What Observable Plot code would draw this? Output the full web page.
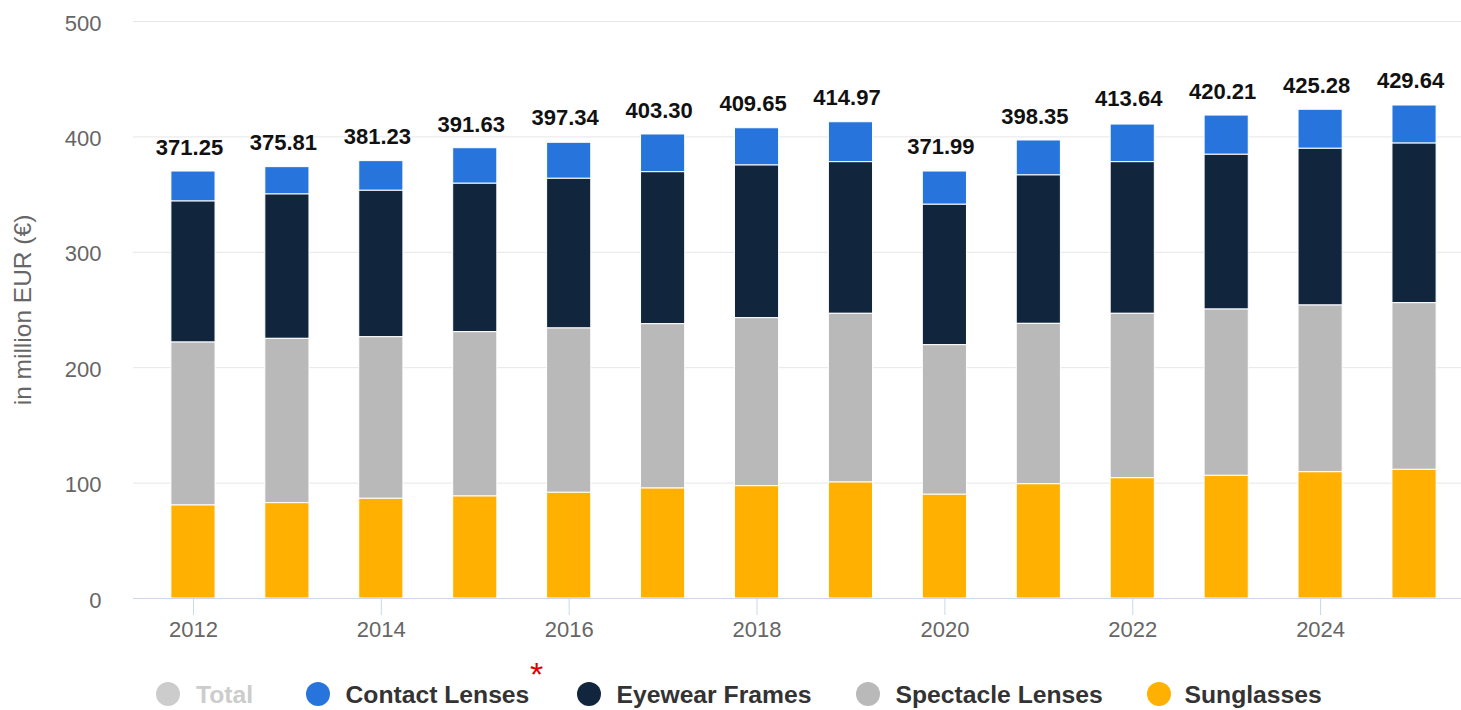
<!DOCTYPE html>
<html><head><meta charset="utf-8">
<script src="https://cdn.jsdelivr.net/npm/d3@7"></script>
<script src="https://cdn.jsdelivr.net/npm/@observablehq/plot@0.6"></script>
<style>
body{margin:0;background:#fff;font-family:"Liberation Sans",Arial,sans-serif;}
#wrap{position:relative;width:1461px;height:710px;overflow:hidden;background:#fff;}
.dot{position:absolute;width:24px;height:24px;border-radius:50%;}
.lt{position:absolute;font-size:24.7px;line-height:25px;font-weight:bold;white-space:nowrap;}
.ast{position:absolute;color:#e00000;font-size:34px;line-height:34px;white-space:nowrap;}
</style></head><body><div id="wrap"><div id="chart"></div><div id="legend"></div></div>
<script>
const years = [2012,2013,2014,2015,2016,2017,2018,2019,2020,2021,2022,2023,2024,2025];
const sunglasses      = [80.6,82.6,86.4,88.4,91.6,95.3,97.3,100.5,89.9,99.0,104.2,106.3,109.4,111.5];
const spectacleLenses = [141.2,142.4,140.0,142.4,142.4,142.4,145.6,146.2,129.6,139.0,142.5,144.1,144.5,144.4];
const eyewearFrames   = [122.2,125.1,126.9,128.6,129.7,131.7,132.3,131.4,121.7,128.6,131.4,134.1,135.8,138.3];
const contactLenses   = [26.0,23.7,25.7,30.8,31.2,32.7,32.3,34.6,28.8,30.3,32.6,34.0,33.8,33.0];
const totals = [371.25,375.81,381.23,391.63,397.34,403.30,409.65,414.97,371.99,398.35,413.64,420.21,425.28,429.64];
const seriesNames = ["Contact Lenses","Eyewear Frames","Spectacle Lenses","Sunglasses"];
const seriesColors = ["#2775dc","#11263d","#b9b9b9","#ffb000"];
const legendNames = ["Total","Contact Lenses","Eyewear Frames","Spectacle Lenses","Sunglasses"];
const legendColors = ["#cccccc","#2775dc","#11263d","#b9b9b9","#ffb000"];
const xTickYears = [2012,2014,2016,2018,2020,2022,2024];
const yTicks = [0,100,200,300,400,500];
const yTitle = "in million EUR (€)";

const seriesValues = [contactLenses, eyewearFrames, spectacleLenses, sunglasses];
const data = [];
seriesNames.forEach((s, k) => years.forEach((y, i) => data.push({year: y, series: s, value: seriesValues[k][i]})));
const totalData = years.map((y, i) => ({year: y, total: totals[i]}));

const chart = Plot.plot({
  width: 1461, height: 655,
  marginLeft: 133, marginRight: 0, marginTop: 21, marginBottom: 57,
  style: {fontFamily: "'Liberation Sans', Arial, sans-serif", background: "#fff"},
  x: {type: "band", domain: years, paddingInner: 0.53, paddingOuter: 0.265, insetLeft: 13, round: false, axis: null},
  y: {domain: [0, 500], axis: null},
  color: {domain: seriesNames, range: seriesColors},
  marks: [
    Plot.gridY(yTicks.filter(t => t > 0), {stroke: "#e6e6e6", strokeOpacity: 1}),
    Plot.barY(data, {x: "year", y: "value", fill: "series", order: ["Sunglasses","Spectacle Lenses","Eyewear Frames","Contact Lenses"], stroke: "#fff", strokeWidth: 1}),
    Plot.ruleY([0], {stroke: "#ccd6eb"}),
    Plot.axisX(xTickYears, {tickSize: 17, stroke: "#ccd6eb", tickFormat: () => "", label: null}),
    Plot.axisX(xTickYears, {tickSize: 0, tickPadding: 23, fontSize: 22, fill: "#666", tickFormat: d => String(d), label: null}),
    Plot.axisY(yTicks, {tickSize: 0, tickPadding: 32, fontSize: 22, fill: "#666", dy: 2, label: null}),
    Plot.text(totalData, {x: "year", y: "total", text: d => d.total.toFixed(2), dy: -22, dx: -4, fontSize: 22, fontWeight: "bold", fill: "#111"}),
    Plot.text([yTitle], {frameAnchor: "left", textAnchor: "middle", dx: -110, rotate: -90, fontSize: 24.5, fill: "#666"})
  ]
});
document.getElementById("chart").appendChild(chart);

// legend (below the SVG)
const legend = document.getElementById("legend");
const dotX = [168, 318, 589, 868, 1158.5];
const textX = [196, 345.5, 616.5, 895.5, 1184.5];
const cy = 694;
legendNames.forEach((name, i) => {
  const d = document.createElement("div");
  d.className = "dot";
  d.style.left = (dotX[i] - 12) + "px";
  d.style.top = (cy - 12) + "px";
  d.style.background = legendColors[i];
  legend.appendChild(d);
  const t = document.createElement("div");
  t.className = "lt";
  t.textContent = name;
  t.style.left = textX[i] + "px";
  t.style.top = (cy - 12.5) + "px";
  t.style.color = i === 0 ? "#cccccc" : "#333333";
  legend.appendChild(t);
});
const a = document.createElement("div");
a.className = "ast";
a.textContent = "*";
a.style.left = "530px";
a.style.top = "657px";
legend.appendChild(a);
</script></body></html>
